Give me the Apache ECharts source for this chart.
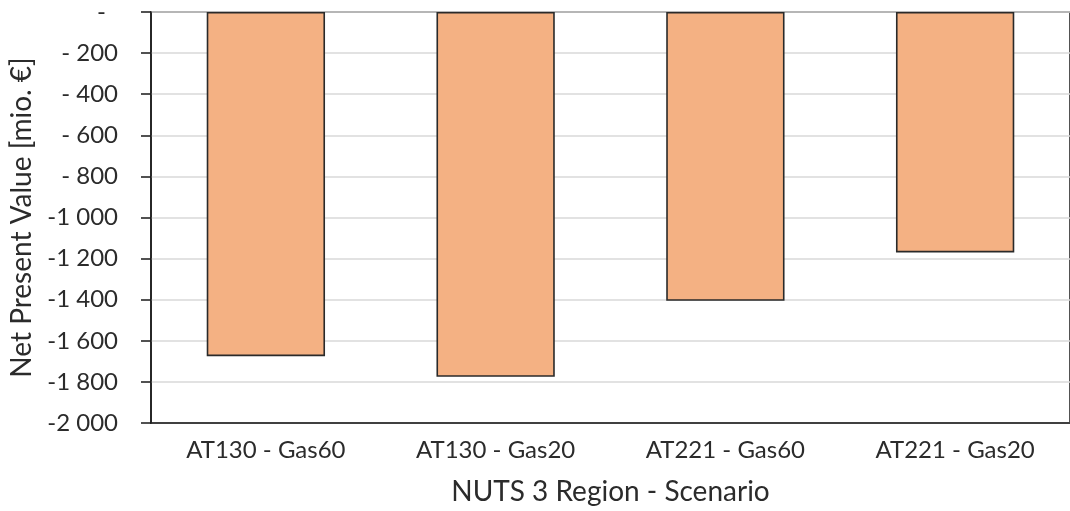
<!DOCTYPE html>
<html>
<head>
<meta charset="utf-8">
<script src="https://cdn.jsdelivr.net/npm/echarts@6/dist/echarts.min.js"></script>
<style>
  html, body { margin: 0; padding: 0; background: #fff; }
  #chart { width: 1070px; height: 511px; }
</style>
</head>
<body>
<div id="chart"></div>
<script>
// NUTS 3 region / scenario combinations and their net present value (mio. €)
const categories = ['AT130 - Gas60', 'AT130 - Gas20', 'AT221 - Gas60', 'AT221 - Gas20'];
const npvValues = [-1675, -1775, -1405, -1170];

const yMin = -2000;
const yMax = 0;
const yStep = 200;

const FONT = 'Lato, "Open Sans", sans-serif';
const TEXT = '#2b2b2b';

// Accounting-style tick labels: "-" for zero, "- 200", "-1 200"
function fmtTick(v) {
  if (v === 0) return '{z|-}';
  const a = Math.abs(v);
  if (a < 1000) return '- ' + a;
  const th = Math.floor(a / 1000);
  const rest = String(a % 1000).padStart(3, '0');
  return '-' + th + ' ' + rest;
}

const chart = echarts.init(document.getElementById('chart'), null, { renderer: 'canvas' });
chart.setOption({
  animation: false,
  backgroundColor: '#ffffff',
  grid: {
    left: 151,
    top: 9,
    width: 926,
    height: 415,
    show: true,
    borderColor: '#1a1a1a',
    borderWidth: 1.5,
    backgroundColor: 'transparent'
  },
  xAxis: {
    type: 'category',
    data: categories,
    position: 'bottom',
    name: 'NUTS 3 Region - Scenario',
    nameLocation: 'middle',
    nameGap: 55,
    nameTextStyle: { fontFamily: FONT, fontSize: 28, color: TEXT },
    axisLine: { show: true, onZero: false, lineStyle: { color: '#1a1a1a', width: 1.5 } },
    axisTick: { show: false },
    axisLabel: { fontFamily: FONT, fontSize: 24, color: TEXT, margin: 15 },
    splitLine: { show: false }
  },
  yAxis: {
    type: 'value',
    min: yMin,
    max: yMax,
    interval: yStep,
    name: 'Net Present Value [mio. €]',
    nameLocation: 'middle',
    nameGap: 112,
    nameRotate: 90,
    nameTextStyle: { fontFamily: FONT, fontSize: 28, color: TEXT },
    axisLine: { show: true, lineStyle: { color: '#1a1a1a', width: 1.5 } },
    axisTick: { show: true, inside: false, length: 10, lineStyle: { color: '#1a1a1a', width: 1.5 } },
    axisLabel: {
      fontFamily: FONT,
      fontSize: 24,
      color: TEXT,
      margin: 33,
      formatter: fmtTick,
      rich: {
        z: { fontFamily: FONT, fontSize: 24, color: TEXT, padding: [0, 12, 0, 0] }
      }
    },
    splitLine: { show: true, lineStyle: { color: '#d9d9d9', width: 1.5 } }
  },
  series: [{
    type: 'bar',
    data: npvValues,
    barWidth: '51.5%',
    itemStyle: {
      color: '#F4B183',
      borderColor: '#2a2a2a',
      borderWidth: 1.6
    },
    label: { show: false }
  }]
});
</script>
</body>
</html>
